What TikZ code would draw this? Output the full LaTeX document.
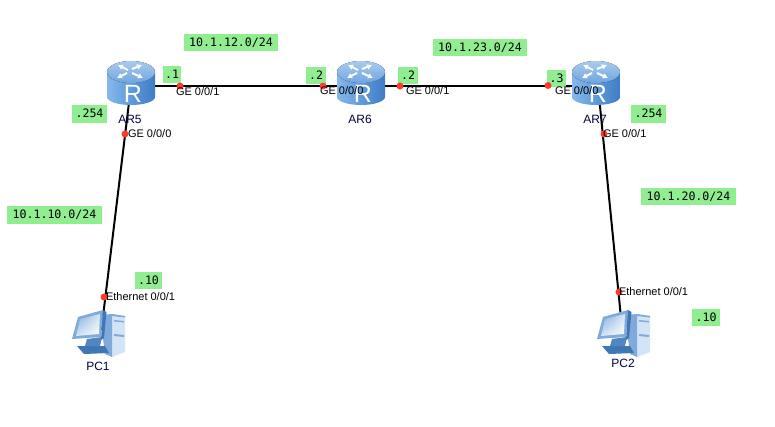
\documentclass[tikz,border=0pt]{standalone}
\usepackage{fontspec}
\setmainfont{Liberation Sans}
\newfontfamily\netmono{DejaVu Sans Mono}
\usetikzlibrary{arrows.meta,shadings}
\definecolor{netgreen}{HTML}{90EE90}
\definecolor{rtop}{HTML}{A9CBEE}
\definecolor{rtopd}{HTML}{6FA5E0}
\definecolor{rsidel}{HTML}{86B8EA}
\definecolor{rsidem}{HTML}{5E9ADC}
\definecolor{rsided}{HTML}{3F7CC4}
\definecolor{pcdark}{HTML}{3F76B4}
\definecolor{pcmid}{HTML}{7FAADB}
\definecolor{pclight}{HTML}{D3E4F6}
\definecolor{portred}{HTML}{FF3B30}
\tikzset{
  x=1pt,y=-1pt,
  every node/.style={inner sep=0pt,outer sep=0pt},
  netlabel/.style={font=\fontsize{11}{13}\selectfont,text=black,anchor=west},
  devname/.style={font=\fontsize{12}{14}\selectfont,text=black!75!blue,anchor=center},
  subnet/.style={fill=netgreen,font=\netmono\fontsize{11.6}{14}\selectfont,anchor=center,text=black,text height=9pt,text depth=2pt},
  link/.style={draw=black,line width=2pt},
  port/.style={circle,fill=portred,minimum size=7pt},
  devbox/.style={minimum width=6pt,minimum height=6pt},
  arrowmark/.style={white,line width=2pt,-{Latex[length=5pt,width=6pt]}},
  routericon/.pic={
    \path[left color=rsidel,right color=rsided,middle color=rsidem]
      (-24,-11) -- (-24,14) arc[x radius=24,y radius=8,start angle=180,end angle=0] -- (24,-11) arc[x radius=24,y radius=11,start angle=0,end angle=180] -- cycle;
    \fill[top color=rtop,bottom color=rtopd] (0,-11) ellipse[x radius=24,y radius=11];
    \draw[arrowmark] (-3,-13) -- (-13,-18);
    \draw[arrowmark] (1,-14) -- (11,-18);
    \draw[arrowmark] (-4,-10) -- (-14,-5);
    \draw[arrowmark] (1,-10) -- (12,-5);
    \node[font=\fontsize{25}{25}\selectfont,text=white] at (2,11) {R};
  },
  pcicon/.pic={
    \fill[pclight] (15,-19) -- (28,-17) -- (28,19) -- (15,24) -- cycle;
    \fill[pcmid] (15,-19) -- (28,-17) -- (28,-15.5) -- (15,-17) -- cycle;
    \fill[pcmid] (17,-13) -- (27,-12) -- (27,-10.5) -- (17,-11.5) -- cycle;
    \fill[pcmid] (17,1) -- (27,2) -- (27,4) -- (17,3) -- cycle;
    \fill[pcmid] (3,-18) -- (15,-19) -- (15,24) -- (8,21) -- cycle;
    \fill[pcdark] (-20,13) -- (8,13) -- (12,20) -- (-13,21) -- cycle;
    \fill[pcdark!70!pcmid] (-10,6) -- (5,4) -- (3,13) -- (-12,13) -- cycle;
    \fill[pcmid] (-19,-16) -- (6,-23) -- (4,4) -- (-25,6) -- cycle;
    \fill[pcdark] (6,-23) -- (9.5,-21) -- (7,5) -- (4,7) -- cycle;
    \shade[upper left=pcmid,lower right=white,upper right=pclight,lower left=pclight] (-17,-14) -- (3,-19) -- (2,1) -- (-21,3) -- cycle;
  },
}
\begin{document}
\begin{tikzpicture}
\useasboundingbox (0,0) rectangle (775,426);
\fill[white] (0,0) rectangle (775,426);

\node[devbox] (ar5) at (131,86) {};
\node[devbox] (ar6) at (361,86) {};
\node[devbox] (ar7) at (598,86) {};
\node[devbox] (pc1) at (101,333) {};
\node[devbox] (pc2) at (622.5,333) {};

\draw[link] (ar5) -- (ar6);
\draw[link] (ar6) -- (ar7);
\draw[link] (ar5) -- (pc1);
\draw[link] (ar7) -- (pc2);

\pic at (131,83) {routericon};
\pic at (361,83) {routericon};
\pic at (596,83) {routericon};
\pic at (97,333) {pcicon};
\pic at (622,333) {pcicon};

\node[devname] (n5) at (130,119) {AR5};
\node[devname] (n6) at (360,119) {AR6};
\node[devname] (n7) at (595,119) {AR7};
\node[devname] (n1) at (98,366) {PC1};
\node[devname] (n2) at (623,363) {PC2};

\node[subnet,minimum width=94pt,minimum height=17pt] (s12) at (231,42.5) {10.1.12.0/24};
\node[subnet,minimum width=94pt,minimum height=17pt] (s23) at (480,47.5) {10.1.23.0/24};
\node[subnet,minimum width=95pt,minimum height=18pt] (s10) at (54.5,215) {10.1.10.0/24};
\node[subnet,minimum width=95pt,minimum height=17pt] (s20) at (688.5,196.5) {10.1.20.0/24};
\node[subnet,minimum width=18pt,minimum height=17pt] (i1) at (172,74.5) {.1};
\node[subnet,minimum width=20pt,minimum height=17pt] (i2) at (316,75.5) {.2};
\node[subnet,minimum width=20pt,minimum height=17pt] (i3) at (408,75.5) {.2};
\node[subnet,minimum width=19pt,minimum height=17pt] (i4) at (556.5,78.5) {.3};
\node[subnet,minimum width=35pt,minimum height=18pt] (i5) at (89.5,114) {.254};
\node[subnet,minimum width=35pt,minimum height=18pt] (i6) at (648.5,114) {.254};
\node[subnet,minimum width=27pt,minimum height=17pt] (i7) at (148.5,280.5) {.10};
\node[subnet,minimum width=28pt,minimum height=17pt] (i8) at (706,317.5) {.10};

\node[port] (p1) at (180,86) {};
\node[port] (p2) at (323,86) {};
\node[port] (p3) at (400,86) {};
\node[port] (p4) at (548,85.5) {};
\node[port] (p5) at (125,134) {};
\node[port] (p6) at (604,134) {};
\node[port] (p7) at (104,297) {};
\node[port] (p8) at (619,292) {};

\node[netlabel] (l1) at (176,92) {GE 0/0/1};
\node[netlabel] (l2) at (320,91) {GE 0/0/0};
\node[netlabel] (l3) at (406,91) {GE 0/0/1};
\node[netlabel] (l4) at (555,91) {GE 0/0/0};
\node[netlabel] (l5) at (128,134) {GE 0/0/0};
\node[netlabel] (l6) at (603,134) {GE 0/0/1};
\node[netlabel] (l7) at (106,297) {Ethernet 0/0/1};
\node[netlabel] (l8) at (619,292) {Ethernet 0/0/1};
\end{tikzpicture}
\end{document}
